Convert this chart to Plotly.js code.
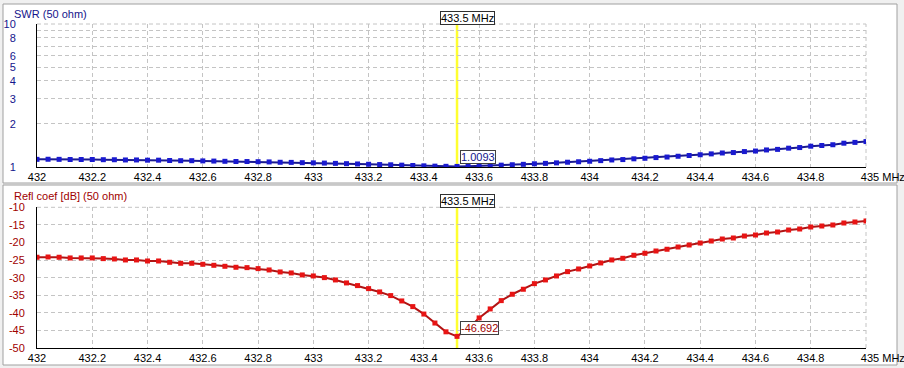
<!DOCTYPE html>
<html>
<head>
<meta charset="utf-8">
<script src="https://cdn.plot.ly/plotly-3.0.1.min.js"></script>
<style>html,body{margin:0;padding:0;background:#f0f0f0;}#chart{width:904px;height:368px;}</style>
</head>
<body>
<div id="chart"></div>
<script>
// Frequency sweep points (MHz)
const freq = [432, 432.04, 432.08, 432.12, 432.16, 432.2, 432.24, 432.28, 432.32, 432.36,
  432.4, 432.44, 432.48, 432.52, 432.56, 432.6, 432.64, 432.68, 432.72, 432.76,
  432.8, 432.84, 432.88, 432.92, 432.96, 433, 433.04, 433.08, 433.12, 433.16,
  433.2, 433.24, 433.28, 433.32, 433.36, 433.4, 433.44, 433.48, 433.52, 433.56,
  433.6, 433.64, 433.68, 433.72, 433.76, 433.8, 433.84, 433.88, 433.92, 433.96,
  434, 434.04, 434.08, 434.12, 434.16, 434.2, 434.24, 434.28, 434.32, 434.36,
  434.4, 434.44, 434.48, 434.52, 434.56, 434.6, 434.64, 434.68, 434.72, 434.76,
  434.8, 434.84, 434.88, 434.92, 434.96, 435];

// SWR (50 ohm)
const swr = [1.131, 1.133, 1.131, 1.128, 1.128, 1.128, 1.125, 1.124, 1.120, 1.120,
  1.116, 1.116, 1.110, 1.107, 1.107, 1.103, 1.100, 1.096, 1.093, 1.092,
  1.089, 1.085, 1.079, 1.077, 1.072, 1.069, 1.065, 1.060, 1.055, 1.050,
  1.045, 1.040, 1.036, 1.030, 1.025, 1.019, 1.014, 1.011, 1.0093, 1.012,
  1.017, 1.023, 1.030, 1.037, 1.044, 1.053, 1.060, 1.069, 1.080, 1.088,
  1.097, 1.108, 1.120, 1.127, 1.141, 1.151, 1.164, 1.174, 1.189, 1.203,
  1.218, 1.235, 1.253, 1.262, 1.282, 1.293, 1.316, 1.328, 1.354, 1.368,
  1.398, 1.414, 1.431, 1.467, 1.486, 1.506];

// Reflection coefficient [dB] (50 ohm)
const reflDb = [-24.21, -24.12, -24.21, -24.40, -24.40, -24.40, -24.59, -24.69, -24.97, -24.97,
  -25.26, -25.26, -25.63, -25.92, -25.92, -26.20, -26.49, -26.77, -27.05, -27.15,
  -27.43, -27.81, -28.38, -28.66, -29.23, -29.52, -29.99, -30.65, -31.50, -32.26,
  -33.12, -34.06, -35.10, -36.62, -38.23, -40.35, -42.90, -45.40, -46.692, -44.50,
  -41.45, -38.89, -36.53, -34.72, -33.30, -31.70, -30.65, -29.52, -28.29, -27.53,
  -26.68, -25.82, -24.97, -24.50, -23.65, -23.08, -22.41, -21.94, -21.28, -20.71,
  -20.14, -19.57, -19.00, -18.72, -18.15, -17.87, -17.30, -17.02, -16.45, -16.17,
  -15.60, -15.31, -15.03, -14.46, -14.18, -13.89];

// Axis ticks
const xTickVals = [432, 432.2, 432.4, 432.6, 432.8, 433, 433.2, 433.4, 433.6, 433.8, 434, 434.2, 434.4, 434.6, 434.8, 435];
const xTickText = ['432', '432.2', '432.4', '432.6', '432.8', '433', '433.2', '433.4', '433.6', '433.8', '434', '434.2', '434.4', '434.6', '434.8', '\u00a0\u00a0\u00a0\u00a0\u00a0\u00a0\u00a0\u00a0\u00a0\u00a0\u00a0435 MHz'];
const swrTickVals = [1, 2, 3, 4, 5, 6, 7, 8, 9, 10];
const swrTickText = ['1', '2', '3', '4', '5', '6', '', '8', '', '10'];
const dbTickVals = [-50, -45, -40, -35, -30, -25, -20, -15, -10];
const dbTickText = ['-50', '-45', '-40', '-35', '-30', '-25', '-20', '-15', '-10'];

// Marker
const markerIdx = 38;
const markerLabel = '433.5 MHz';

const FONT = 'Liberation Sans, Arial, sans-serif';
const NAVY = '#14148c';
const DRED = '#a00000';
const GRID = '#c4c4c4';
const GDASH = '4px,3px';

const W = 904, H = 368, L = 37, R = 38, T = 24, B = 20;
const pw = W - L - R, ph = H - T - B;
const px = v => (v - L) / pw;
const py = v => (H - B - v) / ph;

const gridCommon = {gridcolor: GRID, griddash: GDASH, gridwidth: 1,
  showline: true, linecolor: '#000', linewidth: 1, ticks: '', zeroline: false,
  ticklabeloverflow: 'allow',
  tickfont: {family: FONT, size: 11, color: '#000'}};

const traces = [
  {x: freq, y: swr, xaxis: 'x', yaxis: 'y', type: 'scatter', mode: 'lines+markers',
   line: {color: '#1a1a90', width: 2}, marker: {symbol: 'square', size: 5, color: '#1a1ad0'}, hoverinfo: 'skip'},
  {x: freq, y: reflDb, xaxis: 'x2', yaxis: 'y2', type: 'scatter', mode: 'lines+markers',
   line: {color: '#b01414', width: 2}, marker: {symbol: 'square', size: 5, color: '#e81414'}, hoverinfo: 'skip'}
];

function edgeLines(xa, ya) {
  return [
    {type: 'line', xref: xa + ' domain', yref: ya + ' domain', x0: 0, x1: 1, y0: 1, y1: 1,
     line: {color: GRID, width: 1, dash: GDASH}, layer: 'below'},
    {type: 'line', xref: xa + ' domain', yref: ya + ' domain', x0: 1, x1: 1, y0: 0, y1: 1,
     line: {color: GRID, width: 1, dash: GDASH}, layer: 'below'}
  ];
}

const layout = {
  width: W, height: H,
  margin: {l: L, r: R, t: T, b: B},
  paper_bgcolor: '#f0f0f0', plot_bgcolor: '#ffffff',
  showlegend: false,
  font: {family: FONT, size: 11},
  xaxis: Object.assign({}, gridCommon, {domain: [0, 1], anchor: 'y', range: [432, 435],
    tickvals: xTickVals, ticktext: xTickText}),
  yaxis: Object.assign({}, gridCommon, {domain: [py(167), 1], anchor: 'x', type: 'log', range: [0, 1],
    tickvals: swrTickVals, ticktext: swrTickText, ticklabelstandoff: 18,
    tickfont: {family: FONT, size: 11, color: NAVY}}),
  xaxis2: Object.assign({}, gridCommon, {domain: [0, 1], anchor: 'y2', range: [432, 435],
    tickvals: xTickVals, ticktext: xTickText}),
  yaxis2: Object.assign({}, gridCommon, {domain: [0, py(207.3)], anchor: 'x2', range: [-50, -10],
    tickvals: dbTickVals, ticktext: dbTickText, ticklabelstandoff: 9,
    tickfont: {family: FONT, size: 11, color: DRED}}),
  shapes: [
    {type: 'rect', xref: 'paper', yref: 'paper', x0: px(3), x1: px(897), y0: py(183), y1: py(4),
     fillcolor: '#ffffff', line: {color: '#a0a0a0', width: 1}, layer: 'below'},
    {type: 'rect', xref: 'paper', yref: 'paper', x0: px(3), x1: px(897), y0: py(365), y1: py(185),
     fillcolor: '#ffffff', line: {color: '#a0a0a0', width: 1}, layer: 'below'}
  ].concat(edgeLines('x', 'y'), edgeLines('x2', 'y2'), [
    {type: 'line', xref: 'x', yref: 'y domain', x0: freq[markerIdx], x1: freq[markerIdx], y0: 0, y1: 1,
     line: {color: '#ffff30', width: 2.5}, layer: 'below'},
    {type: 'line', xref: 'x2', yref: 'y2 domain', x0: freq[markerIdx], x1: freq[markerIdx], y0: 0, y1: 1,
     line: {color: '#ffff30', width: 2.5}, layer: 'below'}
  ]),
  annotations: [
    {text: 'SWR (50 ohm)', xref: 'paper', yref: 'paper', x: px(12), y: py(14), xanchor: 'left', yanchor: 'middle',
     showarrow: false, font: {family: FONT, size: 11, color: NAVY}},
    {text: 'Refl coef [dB] (50 ohm)', xref: 'paper', yref: 'paper', x: px(12), y: py(195.5), xanchor: 'left', yanchor: 'middle',
     showarrow: false, font: {family: FONT, size: 11, color: DRED}},
    {text: markerLabel, xref: 'x', yref: 'y domain', x: freq[markerIdx], y: 1, xanchor: 'left', yanchor: 'bottom',
     xshift: -17, yshift: -1, showarrow: false, bgcolor: '#ffffff', bordercolor: '#303030', borderwidth: 1, borderpad: 0,
     font: {family: FONT, size: 11, color: '#000'}},
    {text: markerLabel, xref: 'x2', yref: 'y2 domain', x: freq[markerIdx], y: 1, xanchor: 'left', yanchor: 'bottom',
     xshift: -17, yshift: -1, showarrow: false, bgcolor: '#ffffff', bordercolor: '#303030', borderwidth: 1, borderpad: 0,
     font: {family: FONT, size: 11, color: '#000'}},
    {text: String(swr[markerIdx]), xref: 'x', yref: 'y', x: freq[markerIdx], y: Math.log10(swr[markerIdx]),
     xanchor: 'left', yanchor: 'bottom', xshift: 3, yshift: 2, showarrow: false, bgcolor: '#ffffff',
     bordercolor: '#404040', borderwidth: 1, borderpad: 0, font: {family: FONT, size: 11, color: NAVY}},
    {text: String(reflDb[markerIdx]), xref: 'x2', yref: 'y2', x: freq[markerIdx], y: reflDb[markerIdx],
     xanchor: 'left', yanchor: 'bottom', xshift: 3, yshift: 1, showarrow: false, bgcolor: '#ffffff',
     bordercolor: '#404040', borderwidth: 1, borderpad: 0, font: {family: FONT, size: 11, color: DRED}}
  ]
};

Plotly.newPlot('chart', traces, layout, {staticPlot: true, displayModeBar: false});
</script>
</body>
</html>
